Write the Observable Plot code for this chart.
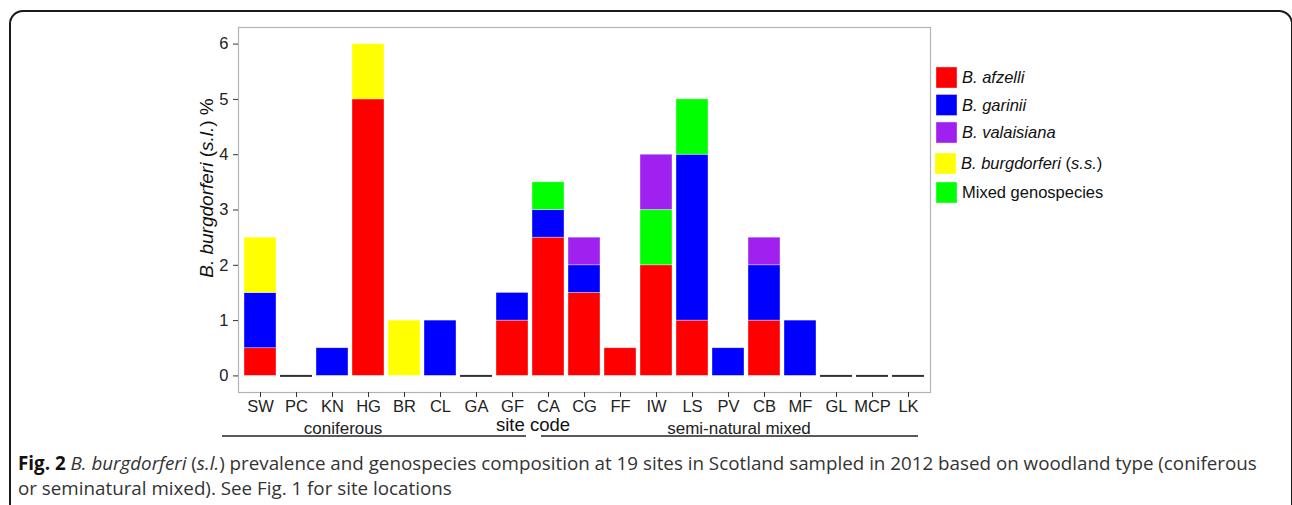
<!DOCTYPE html>
<html>
<head>
<meta charset="utf-8">
<script src="https://cdn.jsdelivr.net/npm/d3@7"></script>
<script src="https://cdn.jsdelivr.net/npm/@observablehq/plot@0.6"></script>
<style>
  html, body { margin: 0; padding: 0; background: #fff; overflow: hidden; }
  #wrap { position: relative; width: 1292px; height: 505px; overflow: hidden; }
  #border { position: absolute; left: 9px; top: 10px; width: 1284px; height: 530px;
            box-sizing: border-box; border: 2px solid #1a1a1a; border-radius: 14px; }
  #chart { position: absolute; left: 0; top: 0; }
  #caption { position: absolute; left: 18px; top: 451px; width: 1270px;
             font-family: "Open Sans", sans-serif; font-size: 16.5px; line-height: 25px;
             color: #333; white-space: nowrap; }
  #caption b { color: #111; }
</style>
</head>
<body>
<div id="wrap">
  <div id="border"></div>
  <div id="chart"></div>
  <div id="caption"><span id="line1"><b>Fig. 2</b> <i>B. burgdorferi</i> (<i>s.l.</i>) prevalence and genospecies composition at 19 sites in Scotland sampled in 2012 based on woodland type (coniferous</span><br>or seminatural mixed). See Fig. 1 for site locations</div>
</div>
<script>
// ---- data ----
const sites = ["SW","PC","KN","HG","BR","CL","GA","GF","CA","CG","FF","IW","LS","PV","CB","MF","GL","MCP","LK"];
const afzelli     = [0.5, 0, 0,   5, 0, 0, 0, 1,   2.5, 1.5, 0.5, 2, 1, 0,   1,   0, 0, 0, 0];
const garinii     = [1,   0, 0.5, 0, 0, 1, 0, 0.5, 0.5, 0.5, 0,   0, 3, 0.5, 1,   1, 0, 0, 0];
const valaisiana  = [0,   0, 0,   0, 0, 0, 0, 0,   0,   0.5, 0,   1, 0, 0,   0.5, 0, 0, 0, 0];
const burgdorferi = [1,   0, 0,   1, 1, 0, 0, 0,   0,   0,   0,   0, 0, 0,   0,   0, 0, 0, 0];
const mixed       = [0,   0, 0,   0, 0, 0, 0, 0,   0.5, 0,   0,   1, 1, 0,   0,   0, 0, 0, 0];
const speciesNames = ["B. afzelli", "B. garinii", "B. valaisiana", "B. burgdorferi (s.s.)", "Mixed genospecies"];
const speciesColors = ["#FF0000", "#0000FF", "#A020F0", "#FFFF00", "#00FF00"];
const yTicks = [0, 1, 2, 3, 4, 5, 6];
const groups = [
  {name: "coniferous", x1: 222, x2: 526, tx: 343},
  {name: "semi-natural mixed", x1: 541, x2: 918, tx: 739}
];

// stacking order (bottom to top)
const stackSeries = [
  ["B. afzelli", afzelli],
  ["B. garinii", garinii],
  ["Mixed genospecies", mixed],
  ["B. valaisiana", valaisiana],
  ["B. burgdorferi (s.s.)", burgdorferi]
];
const rows = [];
for (const [name, vals] of stackSeries) {
  sites.forEach((s, i) => { if (vals[i] > 0) rows.push({site: s, species: name, value: vals[i]}); });
}
const totals = sites.map((s, i) => afzelli[i] + garinii[i] + valaisiana[i] + burgdorferi[i] + mixed[i]);
const zeroSites = sites.filter((s, i) => totals[i] === 0);

const FONT = "'Liberation Sans', Arial, Helvetica, sans-serif";

const svg = Plot.plot({
  width: 1292,
  height: 445,
  marginLeft: 238,
  marginRight: 362,
  marginTop: 27,
  marginBottom: 53,
  style: {fontFamily: FONT, fontSize: "16px", color: "#222", background: "transparent"},
  x: {domain: sites, paddingInner: 0.1, paddingOuter: 0.15, label: null, axis: null},
  y: {domain: [-0.3, 6.3], label: null, axis: null},
  color: {domain: speciesNames, range: speciesColors},
  marks: [
    Plot.barY(rows, {x: "site", y: "value", fill: "species", stroke: "#fff", strokeWidth: 0.6, strokeOpacity: 0.6}),
    Plot.tickY(zeroSites, {x: d => d, y: () => 0, stroke: "#333", strokeWidth: 2}),
    Plot.frame({stroke: "#b3b3b3", strokeWidth: 1.2}),
    Plot.axisY(yTicks, {tickSize: 5, tickPadding: 5, fontSize: 16.5, tickFormat: d3.format("d"), label: null, stroke: "#333", fill: "#222"}),
    Plot.axisX({tickSize: 5, tickPadding: 3, fontSize: 16.5, label: null, stroke: "#333", fill: "#222"})
  ]
});
document.getElementById("chart").appendChild(svg);

const s = d3.select(svg);

// y axis title
const yt = s.append("text")
  .attr("transform", "translate(213,188) rotate(-90)")
  .attr("text-anchor", "middle")
  .attr("font-family", FONT).attr("font-size", 19).attr("fill", "#111");
yt.append("tspan").attr("font-style", "italic").text("B. burgdorferi");
yt.append("tspan").text(" (");
yt.append("tspan").attr("font-style", "italic").text("s.l.");
yt.append("tspan").text(") %");

// x axis title
s.append("text").attr("x", 533).attr("y", 431).attr("text-anchor", "middle")
  .attr("font-family", FONT).attr("font-size", 18.5).attr("fill", "#111").text("site code");

// woodland groups
for (const g of groups) {
  s.append("line").attr("x1", g.x1).attr("x2", g.x2).attr("y1", 436).attr("y2", 436)
    .attr("stroke", "#222").attr("stroke-width", 1.4);
  s.append("text").attr("x", g.tx).attr("y", 434).attr("text-anchor", "middle")
    .attr("font-family", FONT).attr("font-size", 17).attr("fill", "#222").text(g.name);
}

// legend
const legTops = [67, 94.5, 122, 153, 182];
const lg = s.append("g").attr("text-anchor", "start");
speciesNames.forEach((name, i) => {
  const y0 = legTops[i];
  const dx = i === 3 ? -1 : 0;
  lg.append("rect").attr("x", 936 + dx).attr("y", y0).attr("width", 21).attr("height", 21)
    .attr("fill", speciesColors[i]).attr("stroke", "#fff").attr("stroke-opacity", 0.6).attr("stroke-width", 0.6);
  const t = lg.append("text").attr("x", 962 + dx).attr("y", y0 + 10.5).attr("dy", "0.36em")
    .attr("text-anchor", "start")
    .attr("font-family", FONT).attr("font-size", 16.5).attr("fill", "#111");
  if (name === "Mixed genospecies") {
    t.text(name);
  } else if (name === "B. burgdorferi (s.s.)") {
    t.append("tspan").attr("font-style", "italic").text("B. burgdorferi");
    t.append("tspan").text(" (");
    t.append("tspan").attr("font-style", "italic").text("s.s.");
    t.append("tspan").text(")");
  } else {
    t.append("tspan").attr("font-style", "italic").text(name);
  }
});

// fit caption line width to reference (~1240px)
const cap = document.getElementById("caption");
const l1 = document.getElementById("line1");
const w = l1.getBoundingClientRect().width;
if (w > 0) {
  const fs = 16.5 * 1240 / w;
  cap.style.fontSize = fs.toFixed(2) + "px";
}
</script>
</body>
</html>
